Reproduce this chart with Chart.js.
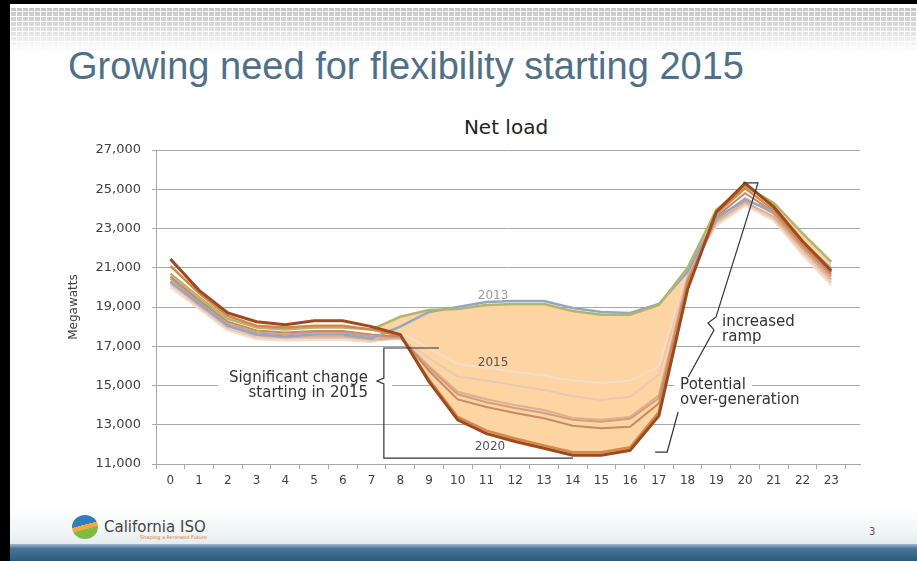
<!DOCTYPE html>
<html>
<head>
<meta charset="utf-8">
<title>Net load</title>
<script src="https://cdn.jsdelivr.net/npm/chart.js@4.4.1/dist/chart.umd.min.js"></script>
<style>
  html, body { margin: 0; padding: 0; background: #fff; }
  #slide { position: relative; width: 917px; height: 561px; overflow: hidden; background: #fff; font-family: 'DejaVu Sans', sans-serif; }
  .frame-top { position: absolute; left: 0; top: 0; width: 917px; height: 4px; background: #000; }
  .frame-left { position: absolute; left: 0; top: 0; width: 10px; height: 561px; background: #000; z-index: 3; }
  .pattern { position: absolute; left: 10px; top: 8px; width: 907px; height: 44px;
    background-image:
      repeating-linear-gradient(90deg, #fff 0 1px, transparent 1px 6px),
      repeating-linear-gradient(0deg, #fff 0 1px, transparent 1px 5px),
      linear-gradient(180deg, #c4c4c4 0%, #dcdcdc 45%, #fff 100%); }
  .heading { position: absolute; left: 68px; top: 47px; font-family: 'Liberation Sans', Arial, sans-serif; font-size: 38px; line-height: 1; color: #4f7087; white-space: nowrap; }
  .chart-title { position: absolute; left: 406px; top: 117px; width: 200px; text-align: center; font-size: 20px; line-height: 1; color: #222; }
  .swoosh { position: absolute; left: 10px; top: 505px; width: 907px; height: 40px; background: linear-gradient(180deg, #fff 0%, #f1f4f5 70%, #e4eaee 100%); }
  .band { position: absolute; left: 10px; top: 544px; width: 907px; height: 17px; background: linear-gradient(180deg, #9db9cd 0%, #4a7798 25%, #2c5a7b 100%); }
  .logo { position: absolute; left: 72px; top: 515px; width: 26px; height: 24px; border-radius: 50%;
    background: linear-gradient(165deg, #2f7fc0 0 42%, #f3a83c 42% 58%, #7dbb42 58% 100%); }
  .brand { position: absolute; left: 104px; top: 520px; font-size: 15px; line-height: 1; color: #444; white-space: nowrap; }
  .tagline { position: absolute; left: 140px; top: 535px; font-size: 5px; line-height: 1; color: #e07b2b; white-space: nowrap; }
  .page { position: absolute; left: 869px; top: 527px; font-size: 10px; line-height: 1; color: #555; }
  canvas { position: absolute; left: 0; top: 0; }
</style>
</head>
<body>
<div id="slide">
  <div class="pattern"></div>
  <div class="frame-top"></div>
  <div class="frame-left"></div>
  <div class="heading">Growing need for flexibility starting 2015</div>
  <div class="chart-title">Net load</div>
  <div class="swoosh"></div>
  <div class="band"></div>
  <div class="logo"></div>
  <div class="brand">California ISO</div>
  <div class="tagline">Shaping a Renewed Future</div>
  <div class="page">3</div>
  <canvas id="netLoad" width="917" height="561"></canvas>
</div>
<script>
Chart.defaults.font.family = "'DejaVu Sans', sans-serif";

// hours of the day
const hourLabels = ['0','1','2','3','4','5','6','7','8','9','10','11','12','13','14','15','16','17','18','19','20','21','22','23'];
const hours = [0,1,2,3,4,5,6,7,8,9,10,11,12,13,14,15,16,17,18,19,20,21,22,23];
const yTicks = [11000, 13000, 15000, 17000, 19000, 21000, 23000, 25000, 27000];

// net load, MW
const net2012 = [20300,19150,18050,17600,17500,17600,17600,17400,18000,18750,19000,19250,19300,19300,18950,18750,18700,19150,20800,23550,24450,23900,22300,20950];
const net2013 = [20700,19500,18400,17950,17850,17950,17950,17850,18500,18850,18900,19100,19150,19150,18800,18600,18600,19100,21000,23950,25150,24300,22750,21300];
const net2014 = [20000,18900,17800,17350,17280,17320,17320,17200,17700,16900,16100,15900,15700,15500,15250,15130,15250,15960,20700,23150,24150,23400,21650,20100];
const net2015 = [20150,19000,17900,17450,17380,17420,17420,17280,17400,16400,15450,15250,15000,14770,14450,14260,14430,15540,20600,23250,24250,23500,21800,20250];
const net2016 = [20250,19100,18000,17550,17450,17500,17500,17350,17420,16000,14680,14300,14000,13750,13350,13250,13400,14500,20500,23350,24350,23600,21950,20400];
const net2017 = [20450,19250,18150,17700,17600,17700,17700,17500,17450,15900,14550,14150,13850,13600,13250,13150,13300,14350,20400,23450,24550,23750,22050,20550];
const net2018 = [20550,19350,18250,17800,17700,17780,17780,17600,17500,15750,14290,13900,13600,13330,12950,12820,12900,14090,20300,23600,24800,23850,22150,20650];
const net2019 = [21100,19700,18550,18050,17950,18050,18050,17850,17550,15300,13400,12700,12300,11950,11600,11600,11850,13650,20100,23750,25050,23950,22250,20750];
const net2020 = [21450,19850,18700,18250,18100,18300,18300,18000,17600,15200,13250,12550,12150,11800,11450,11450,11700,13450,19900,23850,25300,24100,22350,20850];

const seriesByYear = {
  '2012': net2012, '2013': net2013, '2014': net2014, '2015': net2015, '2016': net2016,
  '2017': net2017, '2018': net2018, '2019': net2019, '2020': net2020
};

const lineStyle = {
  '2012': { color: '#92a8c2', width: 2.5 },
  '2013': { color: '#b3b56e', width: 2.5 },
  '2014': { color: '#f6dccb', width: 2 },
  '2015': { color: '#ecc8b2', width: 2 },
  '2016': { color: '#dcae92', width: 2 },
  '2017': { color: '#d39e7e', width: 2 },
  '2018': { color: '#c68a68', width: 2 },
  '2019': { color: '#d6884c', width: 2.5 },
  '2020': { color: '#9c4a1e', width: 3 }
};

const fillColor = '#fcd5a3';
const gridColor = '#a8a8a8';
const tickEdges = hours.map(h => h - 0.5).concat([23.5]);

// first in the list is drawn on top
const drawOrder = ['2020', '2019', '2013', '2012', '2018', '2017', '2016', '2015', '2014'];

const datasets = drawOrder.map(year => ({
  label: year,
  data: hours.map((h, i) => ({ x: h, y: seriesByYear[year][i] })),
  borderColor: lineStyle[year].color,
  borderWidth: lineStyle[year].width,
  pointRadius: 0,
  tension: 0,
  fill: false,
  xAxisID: 'x',
  yAxisID: 'y'
}));

// shaded belly between the 2013 line and the 2020 line
datasets[drawOrder.indexOf('2013')].fill = {
  target: drawOrder.indexOf('2020'),
  above: fillColor,
  below: 'rgba(0,0,0,0)'
};

const callouts = {
  id: 'callouts',
  afterDatasetsDraw(chart) {
    const ctx = chart.ctx;
    const xs = chart.scales.x, ys = chart.scales.y;
    const px = h => xs.getPixelForValue(h);
    const py = v => ys.getPixelForValue(v);

    ctx.save();
    // white patches so the gridline stops behind the text
    ctx.fillStyle = '#fff';
    ctx.fillRect(px(1.66), py(15690), px(7.71) - px(1.66), py(14260) - py(15690));
    ctx.fillRect(px(17.53), py(15280), px(20.24) - px(17.53), py(14720) - py(15280));

    // braces
    ctx.strokeStyle = '#333';
    ctx.lineWidth = 1.2;
    const poly = pts => {
      ctx.beginPath();
      pts.forEach(([h, v], i) => i ? ctx.lineTo(px(h), py(v)) : ctx.moveTo(px(h), py(v)));
      ctx.stroke();
    };
    poly([[9.35,16910],[7.43,16910],[7.43,15380],[7.19,15230],[7.43,15080],[7.43,11300],[14.01,11300]]);
    poly([[19.93,25320],[20.45,25320],[18.99,18490],[18.71,18185],[18.92,17830],[18.02,15430]]);
    poly([[17.67,13650],[17.29,11610],[16.87,11610]]);

    // callout text
    ctx.fillStyle = '#333';
    ctx.font = "15px 'DejaVu Sans', sans-serif";
    ctx.textBaseline = 'middle';
    ctx.textAlign = 'right';
    ctx.fillText('Significant change', px(6.88), py(15380));
    ctx.fillText('starting in 2015', px(6.88), py(14620));
    ctx.textAlign = 'left';
    ctx.fillText('Potential', px(17.74), py(15030));
    ctx.fillText('over-generation', px(17.74), py(14260));
    ctx.fillText('increased', px(19.2), py(18250));
    ctx.fillText('ramp', px(19.2), py(17490));

    // year labels
    ctx.font = "12px 'DejaVu Sans', sans-serif";
    ctx.textAlign = 'center';
    ctx.fillStyle = '#9a9a9a';
    ctx.fillText('2013', px(11.23), py(19560));
    ctx.fillStyle = '#555';
    ctx.fillText('2015', px(11.23), py(16160));
    ctx.fillText('2020', px(11.12), py(11870));
    ctx.restore();
  }
};

new Chart(document.getElementById('netLoad'), {
  type: 'line',
  data: { datasets },
  options: {
    responsive: false,
    animation: false,
    layout: { padding: { left: 66, right: 57, top: 150, bottom: 62 } },
    scales: {
      x: {
        type: 'linear',
        position: 'bottom',
        weight: 1,
        min: -0.5,
        max: 24,
        afterBuildTicks: s => { s.ticks = hours.map(h => ({ value: h })); },
        afterFit: s => { s.height = 30; },
        grid: { display: false, drawTicks: false },
        border: { display: false },
        ticks: {
          padding: 5,
          color: '#404040',
          font: { size: 12 },
          autoSkip: false,
          maxRotation: 0,
          callback: (v, i) => hourLabels[i]
        }
      },
      xt: {
        type: 'linear',
        position: 'bottom',
        weight: 0,
        min: -0.5,
        max: 24,
        afterBuildTicks: s => { s.ticks = tickEdges.map(v => ({ value: v })); },
        afterFit: s => { s.height = 5; },
        grid: { display: true, drawOnChartArea: false, drawTicks: true, tickLength: 5, color: gridColor },
        border: { display: true, color: gridColor },
        ticks: { display: false }
      },
      y: {
        min: 11000,
        max: 27000,
        afterBuildTicks: s => { s.ticks = yTicks.map(v => ({ value: v })); },
        afterFit: s => { s.width = 90; },
        grid: { color: gridColor, tickLength: 4 },
        border: { color: gridColor },
        ticks: {
          padding: 11,
          color: '#404040',
          font: { size: 13 },
          callback: v => Number(v).toLocaleString('en-US')
        },
        title: {
          display: true,
          text: 'Megawatts',
          color: '#404040',
          font: { size: 12 },
          padding: { top: 1, bottom: 0 }
        }
      }
    },
    plugins: {
      legend: { display: false },
      tooltip: { enabled: false },
      filler: { propagate: false, drawTime: 'beforeDatasetsDraw' }
    }
  },
  plugins: [callouts]
});
</script>
</body>
</html>
